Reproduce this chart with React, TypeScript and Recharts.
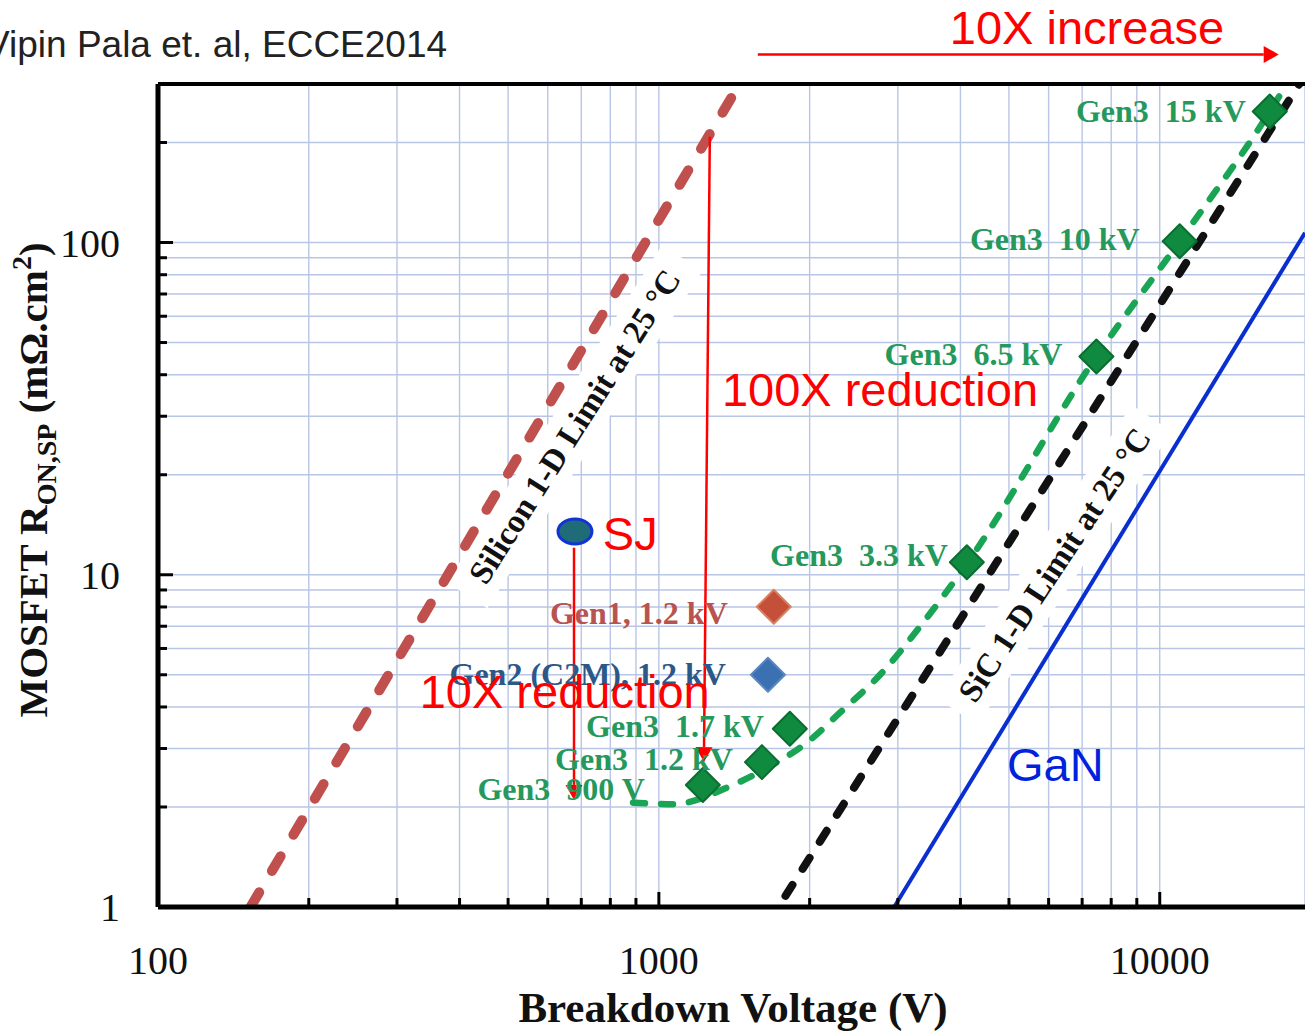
import React from 'react';
import {
  ComposedChart,
  Line,
  Scatter,
  XAxis,
  YAxis,
  CartesianGrid,
  ReferenceLine,
  ReferenceDot,
} from 'recharts';

const SERIF = "'Liberation Serif', 'Times New Roman', Times, serif";
const SANS = "'Liberation Sans', Arial, Helvetica, sans-serif";

// ---------- axis ticks ----------
const xTicks = [100, 200, 300, 400, 500, 600, 700, 800, 900, 1000, 2000, 3000, 4000, 5000, 6000, 7000, 8000, 9000, 10000];
const xTickLabels = [100, 1000, 10000];
const yTicks = [1, 2, 3, 4, 5, 6, 7, 8, 9, 10, 20, 30, 40, 50, 60, 70, 80, 90, 100, 200];
const yTickLabels = [1, 10, 100];

// ---------- limit lines: breakdown voltage (V) vs R_on,sp (mΩ·cm²) ----------
const siLimitV = [153, 1400];
const siLimitR = [1, 275];
const sicLimitV = [1790, 19000];
const sicLimitR = [1.08, 300];
const ganLimitV = [2950, 19500];
const ganLimitR = [1, 107];

// ---------- Gen3 trend curve ----------
const gen3CurveV = [888, 1067, 1406, 1643, 1983, 2296, 2799, 3319, 4120, 7474, 10962, 16585, 17930];
const gen3CurveR = [2.06, 2.04, 2.33, 2.62, 3.14, 3.84, 5.1, 6.97, 10.8, 45.4, 100.9, 248, 300];

// ---------- device points ----------
const gen3Labels = ['Gen3  900 V', 'Gen3  1.2 kV', 'Gen3  1.7 kV', 'Gen3  3.3 kV', 'Gen3  6.5 kV', 'Gen3  10 kV', 'Gen3  15 kV'];
const gen3V = [1224, 1606, 1826, 4120, 7474, 10962, 16585];
const gen3R = [2.33, 2.73, 3.44, 10.9, 45.4, 100.9, 248];

const gen1Labels = ['Gen1, 1.2 kV'];
const gen1V = [1696];
const gen1R = [8.01];

const gen2Labels = ['Gen2 (C2M), 1.2 kV'];
const gen2V = [1651];
const gen2R = [5.0];

const sjV = [680];
const sjR = [13.5];

// ---------- annotations (anchored in data units) ----------
const limitLabelText = ['Silicon 1-D Limit at 25 °C', 'SiC 1-D Limit at 25 °C'];
const limitLabelV = [679, 6166];
const limitLabelR = [27.9, 10.7];

const noteText = ['SJ', '10X reduction', '100X reduction', 'GaN', '10X increase'];
const noteV = [773, 333, 1336, 4955, 3809];
const noteR = [11.9, 3.98, 32.3, 2.4, 395];
const noteColor = ['#ff0000', '#ff0000', '#ff0000', '#0022dd', '#ff0000'];

const arrowFromV = [677, 1264, 1576];
const arrowFromR = [12.06, 208, 368];
const arrowToV = [677, 1230, 17280];
const arrowToR = [2.1, 2.73, 368];

// ---------- style config ----------
const labelOffsets: Record<string, [number, number]> = {
  'Gen3  900 V': [-58, 15],
  'Gen3  1.2 kV': [-29, 8],
  'Gen3  1.7 kV': [-26, 8],
  'Gen3  3.3 kV': [-19, 4],
  'Gen3  6.5 kV': [-34, 9],
  'Gen3  10 kV': [-40, 9],
  'Gen3  15 kV': [-24, 11],
  'Gen1, 1.2 kV': [-46, 17],
  'Gen2 (C2M), 1.2 kV': [-42, 10],
};
const limitLabelStyle = [
  { angle: -57.5, boxW: 400 },
  { angle: -56.5, boxW: 352 },
];

const pts = (vs: number[], rs: number[], labels?: string[]) =>
  vs.map((v, i) => ({ v, r: rs[i], label: labels ? labels[i] : '' }));

const siData = pts(siLimitV, siLimitR);
const sicData = pts(sicLimitV, sicLimitR);
const ganData = pts(ganLimitV, ganLimitR);
const gen3CurveData = pts(gen3CurveV, gen3CurveR);
const gen3Data = pts(gen3V, gen3R, gen3Labels);
const gen1Data = pts(gen1V, gen1R, gen1Labels);
const gen2Data = pts(gen2V, gen2R, gen2Labels);
const sjData = pts(sjV, sjR);

// ---------- renderers ----------
const XTick = (props: any) => {
  const { x, y, payload } = props;
  const v = payload.value;
  const major = xTickLabels.includes(v);
  return (
    <g>
      <line x1={x} x2={x} y1={y} y2={y - (major ? 15 : 9)} stroke="#000" strokeWidth={3} />
      {major && (
        <text x={x} y={y + 67} textAnchor="middle" fontFamily={SERIF} fontSize={40} fill="#111">
          {v}
        </text>
      )}
    </g>
  );
};

const YTick = (props: any) => {
  const { x, y, payload } = props;
  const v = payload.value;
  const major = yTickLabels.includes(v);
  return (
    <g>
      <line x1={x} x2={x + (major ? 15 : 9)} y1={y} y2={y} stroke="#000" strokeWidth={3} />
      {major && (
        <text x={x - 38} y={y + 14} textAnchor="end" fontFamily={SERIF} fontSize={40} fill="#111">
          {v}
        </text>
      )}
    </g>
  );
};

const YTitle = (props: any) => {
  const vb = props.viewBox || { x: 0, y: 84 };
  const cx = vb.x + 33;
  const cy = vb.y + 396;
  return (
    <text
      transform={`rotate(-90, ${cx}, ${cy})`}
      x={cx}
      y={cy + 14}
      textAnchor="middle"
      fontFamily={SERIF}
      fontWeight="bold"
      fontSize={41}
      fill="#111"
    >
      MOSFET R
      <tspan fontSize={28} dy={9}>ON,SP</tspan>
      <tspan dy={-9}> (mΩ.cm</tspan>
      <tspan fontSize={28} dy={-16}>2</tspan>
      <tspan dy={16}>)</tspan>
    </text>
  );
};

const XTitle = (props: any) => {
  const vb = props.viewBox || { x: 158, y: 907 };
  return (
    <text
      x={vb.x + 575}
      y={vb.y + 115}
      textAnchor="middle"
      fontFamily={SERIF}
      fontWeight="bold"
      fontSize={43}
      fill="#111"
    >
      Breakdown Voltage (V)
    </text>
  );
};

const makeDiamond = (fill: string, edge: string, textColor: string) => (props: any) => {
  const { cx, cy, payload } = props;
  const h = 17;
  const lbl = payload && payload.label;
  const off = (lbl && labelOffsets[lbl]) || [-30, 10];
  return (
    <g>
      {lbl && (
        <text
          x={cx + off[0]}
          y={cy + off[1]}
          textAnchor="end"
          fontFamily={SERIF}
          fontWeight="bold"
          fontSize={32}
          fill={textColor}
          style={{ whiteSpace: 'pre' }}
        >
          {lbl}
        </text>
      )}
      <path
        d={`M${cx},${cy - h} L${cx + h},${cy} L${cx},${cy + h} L${cx - h},${cy} Z`}
        fill={fill}
        stroke={edge}
        strokeWidth={2}
        strokeLinejoin="round"
      />
    </g>
  );
};

const SJShape = (props: any) => {
  const { cx, cy } = props;
  return <ellipse cx={cx} cy={cy} rx={17} ry={12.5} fill="#1f6b78" stroke="#1034d6" strokeWidth={3} />;
};

const Arrow = (p: any) => {
  const { x1, y1, x2, y2 } = p;
  const ang = Math.atan2(y2 - y1, x2 - x1);
  const L = 15;
  const W = 8.5;
  const bx = x2 - L * Math.cos(ang);
  const by = y2 - L * Math.sin(ang);
  const px = -Math.sin(ang) * W;
  const py = Math.cos(ang) * W;
  return (
    <g>
      <line x1={x1} y1={y1} x2={bx} y2={by} stroke="#ff0000" strokeWidth={2.5} />
      <polygon points={`${x2},${y2} ${bx + px},${by + py} ${bx - px},${by - py}`} fill="#ff0000" />
    </g>
  );
};

const makeNote = (text: string, color: string) => (p: any) => (
  <text x={p.cx} y={p.cy} fontFamily={SANS} fontSize={47} fill={color}>
    {text}
  </text>
);

const makeLimitLabel = (text: string, angle: number, boxW: number) => (p: any) => {
  const { cx, cy } = p;
  return (
    <g transform={`rotate(${angle}, ${cx}, ${cy})`}>
      <rect x={cx - boxW / 2} y={cy - 24} width={boxW} height={48} fill="#ffffff" />
      <text
        x={cx}
        y={cy}
        textAnchor="middle"
        dominantBaseline="central"
        fontFamily={SERIF}
        fontWeight="bold"
        fontSize={33}
        fill="#111"
      >
        {text}
      </text>
    </g>
  );
};

export default function App() {
  return (
    <div style={{ position: 'absolute', left: 0, top: 0, width: 1305, height: 1031, background: '#fff', overflow: 'hidden' }}>
      <ComposedChart width={1305} height={1031} margin={{ top: 84, right: 0, bottom: 0, left: 0 }}>
        <CartesianGrid stroke="#b9c5e4" strokeWidth={1.4} />
        <XAxis
          dataKey="v"
          type="number"
          scale="log"
          domain={[100, 19500]}
          allowDataOverflow
          ticks={xTicks}
          interval={0}
          tickSize={0}
          tickMargin={0}
          tickLine={false}
          tick={XTick}
          height={124}
          axisLine={{ stroke: '#000', strokeWidth: 5 }}
          label={XTitle}
        />
        <YAxis
          dataKey="r"
          type="number"
          scale="log"
          domain={[1, 300]}
          allowDataOverflow
          ticks={yTicks}
          interval={0}
          tickSize={0}
          tickMargin={0}
          tickLine={false}
          tick={YTick}
          width={158}
          axisLine={{ stroke: '#000', strokeWidth: 5 }}
          label={YTitle}
        />

        {limitLabelText.map((t, i) => (
          <ReferenceDot
            key={'ll' + i}
            x={limitLabelV[i]}
            y={limitLabelR[i]}
            ifOverflow="visible"
            zIndex={-50}
            shape={makeLimitLabel(t, limitLabelStyle[i].angle, limitLabelStyle[i].boxW)}
          />
        ))}

        <Line
          data={siData}
          dataKey="r"
          type="linear"
          stroke="#c0504d"
          strokeWidth={10}
          strokeDasharray="17 25"
          strokeLinecap="round"
          dot={false}
          activeDot={false}
          isAnimationActive={false}
        />
        <Line
          data={sicData}
          dataKey="r"
          type="linear"
          stroke="#111111"
          strokeWidth={8}
          strokeDasharray="13 19"
          strokeLinecap="round"
          dot={false}
          activeDot={false}
          isAnimationActive={false}
        />
        <Line
          data={ganData}
          dataKey="r"
          type="linear"
          stroke="#0a2fd0"
          strokeWidth={4}
          dot={false}
          activeDot={false}
          isAnimationActive={false}
        />
        <Line
          data={gen3CurveData}
          dataKey="r"
          type="monotone"
          stroke="#19a553"
          strokeWidth={6.5}
          strokeDasharray="12 16"
          strokeLinecap="round"
          dot={false}
          activeDot={false}
          isAnimationActive={false}
        />

        <Scatter data={gen3Data} dataKey="r" shape={makeDiamond('#0f8a3f', '#0b6e31', '#25995c')} isAnimationActive={false} />
        <Scatter data={gen1Data} dataKey="r" shape={makeDiamond('#c5503a', '#d98060', '#b8534f')} isAnimationActive={false} />
        <Scatter data={gen2Data} dataKey="r" shape={makeDiamond('#3b70b2', '#5a88c0', '#2c5888')} isAnimationActive={false} />
        <Scatter data={sjData} dataKey="r" shape={SJShape} isAnimationActive={false} />

        {arrowFromV.map((v, i) => (
          <ReferenceLine
            key={'ar' + i}
            segment={[
              { x: v, y: arrowFromR[i] },
              { x: arrowToV[i], y: arrowToR[i] },
            ]}
            ifOverflow="visible"
            shape={Arrow}
          />
        ))}

        {noteText.map((t, i) => (
          <ReferenceDot
            key={'nt' + i}
            x={noteV[i]}
            y={noteR[i]}
            ifOverflow="visible"
            shape={makeNote(t, noteColor[i])}
          />
        ))}

        <ReferenceLine y={300} stroke="#000" strokeWidth={4} ifOverflow="visible" />
      </ComposedChart>
      <svg width={1305} height={100} style={{ position: 'absolute', left: 0, top: 0, pointerEvents: 'none' }}>
        <text x={-15} y={57} fontFamily={SANS} fontSize={37} fill="#222">
          Vipin Pala et. al, ECCE2014
        </text>
      </svg>
    </div>
  );
}
